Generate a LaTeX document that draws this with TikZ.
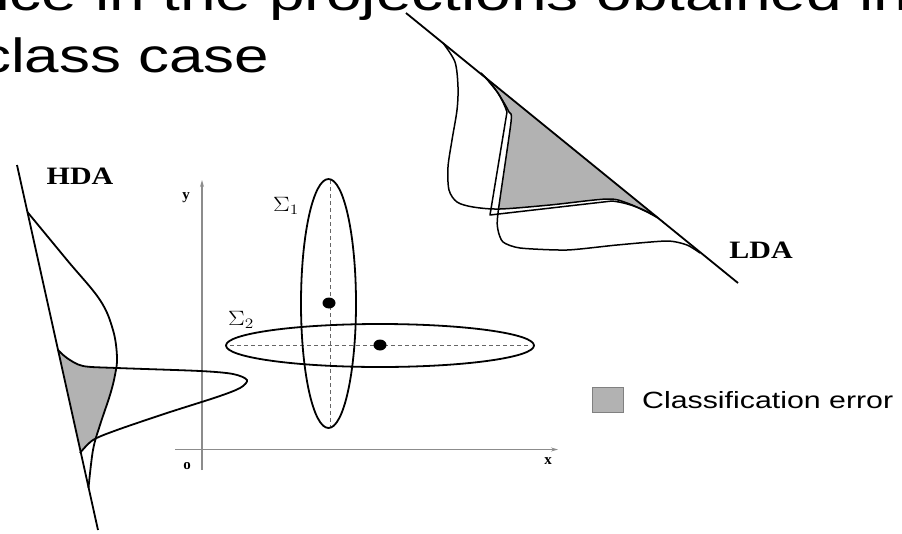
\documentclass[tikz,border=0pt]{standalone}
\usepackage{fontspec}
\setmainfont{Liberation Serif}
\newfontfamily\arialfont{Liberation Sans}
\usetikzlibrary{arrows.meta}
\begin{document}
\begin{tikzpicture}[x=1pt,y=-1pt,
  curve/.style={line width=1.8pt, black, line join=round},
  thincurve/.style={line width=1.5pt, black, line join=round},
  axisline/.style={line width=1.3pt, black!45},
  dashline/.style={line width=0.7pt, black!60, dash pattern=on 4pt off 3pt},
  errfill/.style={fill=black!30},
  titletext/.style={inner sep=0pt, anchor=base west, font=\arialfont\fontsize{48}{58}\selectfont},
  lab/.style={inner sep=0pt, font=\fontsize{25}{30}\selectfont\bfseries},
  axlab/.style={inner sep=0pt, font=\fontsize{15}{18}\selectfont\bfseries},
  siglab/.style={inner sep=0pt, font=\fontsize{20}{24}\selectfont}
]
\useasboundingbox (0,0) rectangle (902,533);
\clip (0,0) rectangle (902,533);

% title (cropped)
\node[titletext] (t1) at (-26,10) {\scalebox{1.333}[1]{nce in the projections obtained in}};
\node[titletext] (t2) at (-20,72) {\scalebox{1.29}[1]{class case}};

% coordinate axes
\coordinate (ybot) at (202,470);
\coordinate (ytop) at (202,180);
\coordinate (xl) at (175,449.5);
\coordinate (xr) at (558,449.5);
\draw[axisline,-{Stealth[length=7pt,width=4pt]}] (ybot) -- (ytop);
\draw[axisline,-{Stealth[length=7pt,width=4pt]}] (xl) -- (xr);
\node[axlab] (ylab) at (186,198) {y};
\node[axlab] (xlab) at (548,461) {x};
\node[axlab] (olab) at (187,466) {o};

% covariance ellipses
\draw[dashline] (330,180) -- (330,427);
\draw[dashline] (230,345) -- (531,345);
\draw[curve] (328.5,303.5) ellipse [x radius=27.5, y radius=124.5];
\draw[curve] (380,345.5) ellipse [x radius=154, y radius=21.5];
\fill (329,303) ellipse [x radius=6.5, y radius=5.5];
\fill (380,345) ellipse [x radius=6.5, y radius=5.5];
\node[siglab] (s1) at (286,206) {\scalebox{1.2}[1]{$\Sigma_1$}};
\node[siglab] (s2) at (241,320) {\scalebox{1.2}[1]{$\Sigma_2$}};

% HDA projection
\coordinate (h1) at (17,165);
\coordinate (h2) at (98,530);
\begin{scope}
  \clip plot[smooth, tension=0.6] coordinates {(27.4,212) (67,260) (100,300) (113,330) (117,357) (115,375) (110,395) (100,425) (93,450) (88.5,488)} -- cycle;
  \fill[errfill] plot[smooth, tension=0.5] coordinates {(58,350) (67,358) (83,366) (117,368) (200,371) (233,374) (247,380) (240,388) (217,397) (167,413) (117,430) (93,440) (80,453)} -- cycle;
\end{scope}
\draw[curve] (h1) -- (h2);
\draw[curve] plot[smooth, tension=0.6] coordinates {(27.4,212) (67,260) (100,300) (113,330) (117,357) (115,375) (110,395) (100,425) (93,450) (88.5,488)};
\draw[curve] plot[smooth, tension=0.5] coordinates {(58,350) (67,358) (83,366) (117,368) (200,371) (233,374) (247,380) (240,388) (217,397) (167,413) (117,430) (93,440) (80,453)};
\node[lab] (hda) at (80,176) {\scalebox{1.2}[1]{HDA}};

% LDA projection
\coordinate (l1) at (406,13);
\coordinate (l2) at (738,283);
\begin{scope}
  \clip plot[smooth, tension=0.5] coordinates {(443,43) (455,62) (458,87) (457,110) (452,140) (448,167) (449,190) (457,202) (473,207) (500,209) (550,205) (607,199) (627,203) (647,212) (658,218)} -- cycle;
  \fill[errfill] plot[smooth, tension=0.4] coordinates {(485,77) (498,93) (509,112) (511,122) (498,213) (498,230) (503,242) (520,248) (567,250) (617,245) (667,241) (687,245) (700,253)} -- cycle;
\end{scope}
\draw[thincurve] plot[smooth, tension=0.5] coordinates {(443,43) (455,62) (458,87) (457,110) (452,140) (448,167) (449,190) (457,202) (473,207) (500,209) (550,205) (607,199) (627,203) (647,212) (658,218)};
\draw[thincurve] plot[smooth, tension=0.4] coordinates {(485,77) (498,93) (509,112) (511,122) (498,213) (498,230) (503,242) (520,248) (567,250) (617,245) (667,241) (687,245) (700,253)};
\draw[thincurve] (481,73) .. controls (495,86) and (503,100) .. (507,112) -- (490,215) -- (612,201) .. controls (630,203) and (645,210) .. (657,217);
\draw[curve] (l1) -- (l2);
\node[lab] (lda) at (761,250) {\scalebox{1.2}[1]{LDA}};

% legend
\node[draw=black!50, line width=1pt, errfill, minimum width=31pt, minimum height=25pt, inner sep=0pt] (lgbox) at (608,400) {};
\node[inner sep=0pt, anchor=west, font=\arialfont\fontsize{23.5}{28}\selectfont] (lgtext) at (642,400) {\scalebox{1.29}[1]{Classification error}};
\end{tikzpicture}
\end{document}
